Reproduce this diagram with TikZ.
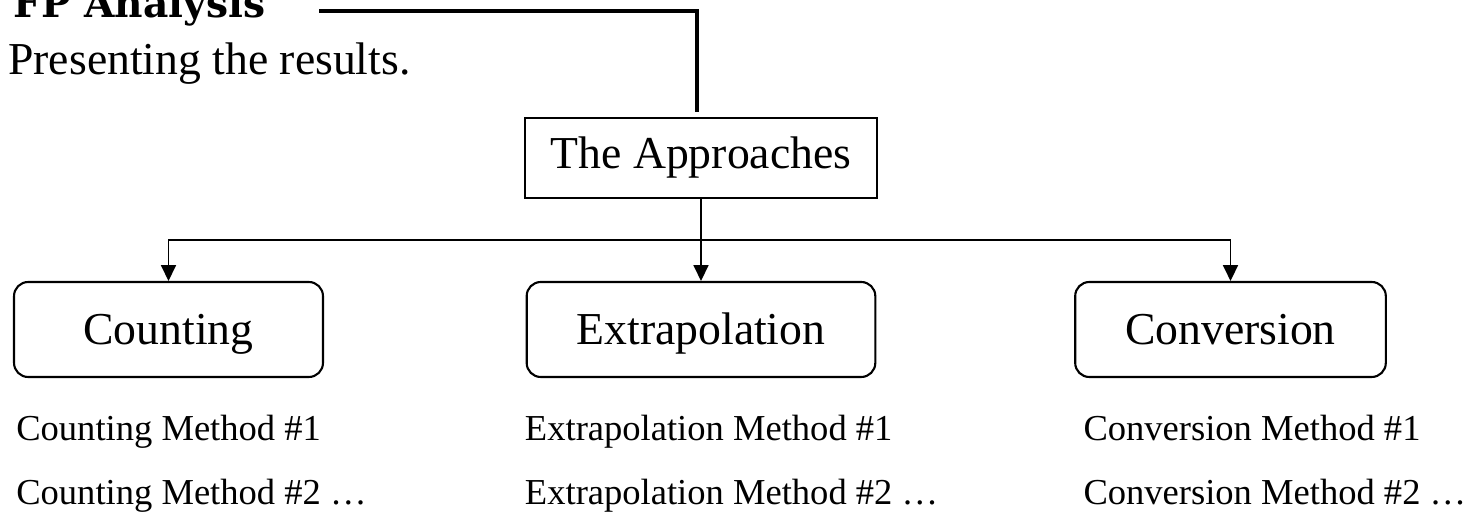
\documentclass[tikz,border=0pt]{standalone}
\usepackage{fontspec}
\setmainfont{Liberation Serif}
\newfontfamily\slabfont{DejaVu Serif}
\usetikzlibrary{calc}
\usetikzlibrary{arrows.meta}
\tikzstyle{approach}=[draw, rounded corners=8pt, line width=1.2pt, minimum width=6.18cm, minimum height=1.9cm, inner xsep=1cm, text height=23.6pt, text depth=6pt, font=\fontsize{26}{30}\selectfont]
\tikzstyle{topbox}=[draw, line width=1.1pt, minimum width=7.04cm, minimum height=1.6cm, font=\fontsize{26}{30}\selectfont]
\tikzstyle{method}=[anchor=base west, inner sep=0pt, font=\fontsize{20.8}{24}\selectfont]
\tikzstyle{link}=[line width=1.1pt, -{Triangle[length=9pt,width=8.5pt]}]

\begin{document}
\begin{tikzpicture}[x=0.02cm,y=-0.02cm]
\useasboundingbox (0,0) rectangle (1470,516);
%\draw[help lines,step=100] (0,0) grid (1470,516);
\node[anchor=base west, inner sep=0pt, font=\slabfont\bfseries\fontsize{22.3}{26}\selectfont] (fp) at (13,18) {FP Analysis};%title
\node[anchor=base west, inner sep=0pt, font=\fontsize{26}{30}\selectfont] (sub) at (8,75) {Presenting the results.};%subtitle

\node[topbox] (app) at (701,158) {The Approaches};
\node[approach] (cnt) at (168.5,329.5) {Counting};
\node[approach] (ext) at (701,329.5) {Extrapolation};
\node[approach] (cnv) at (1230.5,329.5) {Conversion};

\node[method] (cnt1) at ($(cnt.south west)+(3,62)$) {Counting Method \#1};
\node[method] (cnt2) at ($(cnt.south west)+(3,126)$) {Counting Method \#2 …};
\node[method] (ext1) at ($(ext.south west)+(-1,62)$) {Extrapolation Method \#1};
\node[method] (ext2) at ($(ext.south west)+(-1,126)$) {Extrapolation Method \#2 …};
\node[method] (cnv1) at ($(cnv.south west)+(9,62)$) {Conversion Method \#1};
\node[method] (cnv2) at ($(cnv.south west)+(9,126)$) {Conversion Method \#2 …};

\coordinate (lead) at (319,11);
\draw[line width=2.2pt] (lead) -| ($(app.north)+(-4,-5)$);%title line

\draw[link] (app.south) -- (ext.north);
\coordinate (bus) at ($(app.south)!0.5!(ext.north)$);
\draw[link] (bus) -| (cnt.north);
\draw[link] (bus) -| (cnv.north);
\end{tikzpicture}
\end{document}
